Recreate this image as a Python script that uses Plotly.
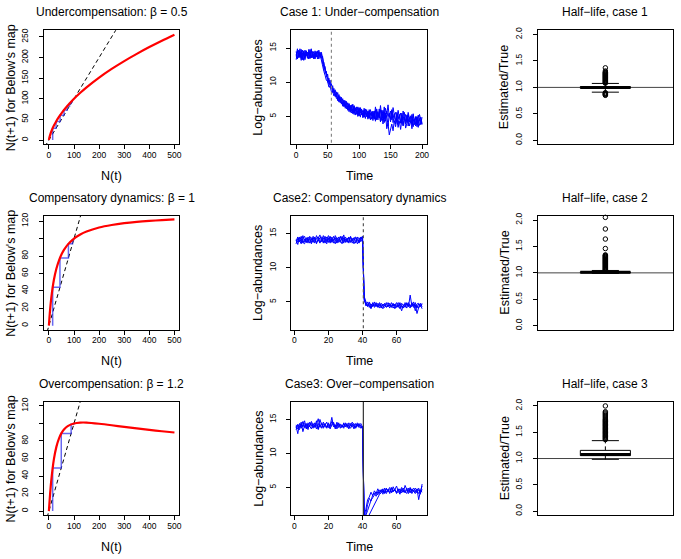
import plotly.graph_objects as go

W, H = 681, 559
FONT = "Liberation Sans, Arial, sans-serif"

# ---------------- data ----------------
# Below's map curves: N(t+1) as a function of N(t)
N_grid = [0, 2, 5, 10, 20, 30, 40, 50, 60, 75, 100, 125, 150, 200, 250, 300, 350, 400, 450, 500]
map_under = [0, 6.0, 12.6, 21.3, 35.0, 46.2, 55.9, 64.7, 72.7, 83.7, 100.0, 114.5, 127.8, 151.4,
             172.4, 191.4, 208.9, 225.3, 240.7, 255.3]
map_comp = [0, 8.3, 19.0, 33.1, 52.7, 65.6, 74.8, 81.7, 87.0, 93.1, 100.0, 104.7, 108.1, 112.7,
            115.6, 117.7, 119.2, 120.3, 121.2, 122.0]
map_over = [0, 8.6, 20.3, 36.5, 59.3, 73.6, 82.8, 89.0, 93.1, 97.0, 100.0, 101.0, 101.0, 99.7,
            98.0, 96.1, 94.3, 92.7, 91.1, 89.7]
# successive iterates N0, N1, N2, ... used for the cobweb
iter_under = [15, 28.6, 44.7, 60.2, 72.9, 82.2, 88.6, 92.8, 95.5]
iter_comp = [15, 44.0, 77.8, 94.0, 98.6, 99.7]
iter_over = [15, 49.3, 88.6, 99.0, 99.95]
one_to_one = [-30, 700]

map_titles = ["Undercompensation: \u03b2 = 0.5", "Compensatory dynamics: \u03b2 = 1",
              "Overcompensation: \u03b2 = 1.2"]

# Time series (log-abundances)
time1 = list(range(0, 201, 2))
case1 = [
    [14.5, 13.4, 14.3, 13.6, 14.8, 13.5, 14.2, 13.3, 14.6, 13.8, 14.4, 13.5, 14.7, 13.6, 14.1, 13.4, 14.5, 13.7, 14.3, 13.6,
     14.2, 12.7, 12.9, 11.3, 11.6, 10.0, 10.6, 9.2, 9.8, 8.5, 9.1, 7.9, 8.6, 7.3, 8.2, 7.0, 7.8, 6.5, 7.4, 6.2, 7.2,
     5.9, 6.9, 5.6, 6.7, 5.4, 6.5, 5.2, 6.4, 5.0, 6.2, 4.9, 6.1, 4.8, 5.9, 4.7, 6.0, 4.6, 5.8, 4.5, 5.7,
     4.4, 5.8, 4.3, 5.6, 4.5, 6.1, 4.2, 5.5, 3.9, 5.7, 4.3, 5.2, 3.6, 5.4, 4.6, 5.9, 4.1, 5.3, 4.4, 5.0,
     3.8, 5.1, 4.2, 5.5, 3.7, 4.9, 4.3, 5.2, 3.6, 4.8, 4.1, 5.3, 3.5, 4.6, 3.9, 5.0, 3.4, 4.7, 3.8, 4.9],
    [13.3, 14.6, 13.7, 14.9, 13.5, 14.3, 13.2, 14.7, 13.9, 14.4, 13.4, 14.8, 13.6, 14.2, 13.5, 14.6, 13.8, 14.5, 13.4, 14.4,
     13.5, 13.8, 12.0, 12.3, 10.8, 11.2, 9.7, 10.3, 9.0, 9.5, 8.4, 8.9, 7.8, 8.5, 7.4, 7.9, 6.9, 7.6, 6.6, 7.3, 6.3,
     7.0, 6.1, 6.6, 5.8, 6.8, 5.5, 6.3, 5.3, 6.4, 5.1, 6.0, 5.4, 5.9, 4.9, 5.7, 5.0, 5.8, 4.8, 5.5, 4.6,
     5.6, 4.7, 5.9, 4.5, 5.3, 4.8, 6.0, 4.4, 5.2, 4.1, 5.5, 3.2, 4.0, 2.3, 3.3, 3.9, 2.9, 4.4, 3.5, 4.6,
     3.4, 4.3, 3.1, 4.5, 3.6, 4.8, 3.3, 4.2, 4.7, 3.6, 4.4, 3.2, 4.6, 3.8, 4.9, 3.5, 4.3, 3.7, 4.5, 3.9],
    [14.1, 13.5, 14.7, 13.8, 14.4, 13.3, 14.6, 13.9, 14.2, 13.5, 14.8, 14.0, 13.6, 14.5, 13.4, 14.3, 13.7, 14.6, 13.9, 14.1,
     13.1, 12.4, 11.6, 11.0, 10.3, 10.1, 9.3, 9.4, 8.6, 8.7, 8.0, 8.3, 7.6, 7.7, 7.1, 7.5, 6.8, 7.0, 6.4, 6.9, 6.1,
     6.5, 5.7, 6.6, 5.5, 6.1, 5.3, 6.2, 5.6, 5.8, 5.1, 6.3, 5.2, 5.5, 4.9, 6.1, 5.0, 5.6, 4.7, 6.0, 5.1,
     5.8, 4.6, 6.4, 5.0, 5.7, 4.8, 6.6, 5.1, 5.9, 4.6, 6.2, 5.3, 6.7, 4.9, 5.8, 4.5, 6.3, 5.2, 5.6, 4.4,
     5.9, 4.8, 5.5, 4.2, 5.8, 4.6, 5.3, 4.1, 5.6, 4.7, 5.1, 3.9, 5.4, 4.3, 5.0, 3.8, 5.2, 4.4, 4.9, 4.0],
    [13.8, 14.9, 13.6, 14.4, 13.2, 14.7, 14.0, 13.5, 14.6, 13.7, 14.3, 13.5, 14.9, 13.8, 14.5, 13.6, 14.2, 13.4, 14.7, 13.9,
     14.4, 13.4, 12.6, 11.9, 11.3, 10.5, 10.4, 9.6, 9.6, 8.9, 8.8, 8.2, 8.4, 7.6, 8.0, 7.2, 7.6, 6.8, 7.3, 6.5, 7.0,
     6.2, 6.8, 5.9, 6.4, 5.6, 6.6, 5.8, 6.1, 5.3, 6.3, 5.5, 5.7, 5.0, 6.2, 5.3, 5.5, 4.8, 6.0, 5.2, 5.4,
     4.9, 5.6, 4.5, 6.1, 5.1, 5.4, 4.3, 5.9, 4.9, 6.4, 4.7, 5.8, 5.0, 5.5, 4.2, 6.0, 4.8, 5.4, 3.9, 5.6,
     4.6, 5.3, 4.0, 5.0, 4.5, 5.6, 3.9, 4.8, 5.3, 4.2, 4.9, 3.8, 5.1, 4.4, 3.6, 4.9, 4.1, 5.3, 4.3, 3.8],
]
time23 = list(range(1, 76))
case2 = [
    [13.5, 14.3, 13.8, 14.6, 13.6, 14.2, 13.7, 14.5, 14.0, 13.5, 14.4, 13.8, 14.7, 14.1, 13.6, 14.3, 13.7, 14.6, 13.8, 14.3,
     13.6, 14.5, 14.0, 13.5, 14.4, 14.1, 13.7, 14.6, 13.8, 14.2, 13.7, 14.4, 13.8, 14.3, 13.5, 14.0, 14.5, 13.7, 14.1, 14.6,
     5.8, 4.9, 4.3, 4.8, 4.1, 4.6, 4.4, 4.9, 4.2, 4.7, 4.5, 4.0, 4.8, 4.3, 4.6, 4.1, 4.9, 4.4, 4.7, 4.2,
     4.6, 4.0, 4.8, 4.5, 4.2, 4.9, 4.3, 6.0, 4.4, 4.7, 3.7, 4.5, 4.1, 4.8, 4.3],
    [14.1, 13.4, 14.4, 13.7, 14.7, 13.8, 14.3, 13.6, 14.6, 14.1, 13.7, 14.5, 13.5, 14.3, 14.8, 13.8, 14.4, 13.6, 14.2, 14.7,
     14.2, 13.7, 14.6, 14.0, 13.6, 14.5, 14.1, 13.5, 14.4, 13.8, 14.3, 13.6, 14.5, 14.0, 14.4, 13.6, 14.2, 14.4, 13.8, 14.3,
     5.4, 4.6, 5.0, 4.2, 4.7, 4.4, 5.0, 4.3, 4.8, 4.5, 4.1, 4.7, 4.4, 4.9, 4.3, 4.6, 4.2, 4.8, 4.0, 4.5,
     4.9, 4.4, 3.7, 4.6, 4.3, 4.8, 4.5, 4.1, 4.9, 4.4, 4.6, 3.3, 4.2, 4.6, 4.0],
    [13.9, 14.5, 14.0, 13.5, 14.3, 14.6, 13.7, 14.2, 13.6, 14.4, 14.0, 13.6, 14.3, 14.5, 13.7, 14.0, 14.7, 14.1, 13.5, 14.4,
     13.8, 14.2, 13.6, 14.7, 14.2, 13.7, 14.5, 14.0, 14.8, 13.7, 14.2, 14.5, 13.7, 13.9, 14.3, 14.5, 13.5, 14.0, 14.4, 14.5,
     5.6, 4.4, 4.7, 4.5, 4.0, 4.9, 4.2, 4.6, 4.5, 4.1, 4.8, 4.4, 4.2, 4.6, 4.9, 4.4, 4.5, 4.1, 4.6, 4.9,
     4.2, 4.7, 4.4, 4.1, 4.9, 4.5, 4.7, 4.3, 4.8, 4.2, 4.9, 4.1, 4.7, 4.4, 4.8],
    [13.6, 13.9, 14.5, 14.2, 13.7, 13.5, 14.4, 14.0, 14.3, 13.7, 14.6, 14.1, 13.7, 13.9, 14.4, 14.5, 13.6, 14.0, 14.5, 13.7,
     14.6, 13.8, 14.2, 14.4, 13.7, 13.9, 14.6, 14.2, 13.6, 14.5, 14.0, 13.8, 14.6, 13.6, 14.1, 14.4, 14.0, 13.6, 14.5, 14.0,
     5.2, 4.7, 4.4, 5.0, 4.5, 4.3, 4.7, 4.5, 4.4, 4.9, 4.3, 4.6, 4.5, 4.2, 4.4, 4.8, 4.3, 4.6, 4.5, 4.3,
     4.4, 4.9, 4.2, 4.5, 4.7, 4.1, 4.9, 4.4, 4.3, 5.0, 4.2, 4.7, 4.8, 4.3, 4.6],
]
case3 = [
    [13.5, 14.3, 13.8, 14.6, 13.2, 14.1, 13.7, 14.5, 14.0, 13.6, 14.4, 13.9, 14.8, 13.5, 14.2, 13.8, 14.6, 14.0, 13.7, 14.3,
     14.1, 15.3, 13.9, 14.2, 13.6, 14.4, 14.0, 13.8, 14.5, 13.9, 14.2, 13.6, 14.4, 13.9, 14.1, 13.7, 14.3, 13.8, 14.1, 13.6,
     0.9, 1.8, 3.2, 3.6, 4.3, 3.8, 4.5, 4.1, 4.8, 4.2, 4.6, 4.0, 4.9, 4.3, 4.7, 4.1, 5.0, 4.4, 4.6, 4.2,
     4.8, 4.3, 4.6, 4.9, 4.2, 4.7, 4.4, 5.0, 4.1, 4.6, 4.3, 4.8, 3.2, 4.5, 5.2],
    [14.2, 13.6, 14.0, 13.9, 14.7, 13.8, 14.4, 13.5, 14.6, 14.1, 13.7, 14.5, 14.1, 13.6, 15.0, 14.2, 13.9, 14.4, 13.8, 14.1,
     13.6, 14.3, 14.6, 13.8, 14.0, 14.5, 13.7, 14.2, 13.9, 14.4, 13.8, 14.5, 14.0, 14.3, 13.6, 14.4, 14.0, 14.2, 13.7, 14.0,
     0.6, 0.9, 1.6, 2.4, 3.1, 3.5, 3.9, 4.3, 3.9, 4.6, 4.4, 4.8, 4.2, 4.9, 4.4, 4.7, 4.3, 5.1, 4.5, 4.4,
     4.7, 4.2, 5.0, 4.5, 4.3, 4.9, 4.6, 4.2, 4.8, 4.5, 4.1, 4.6, 4.9, 4.2, 4.7],
    [14.0, 12.9, 14.4, 13.7, 14.2, 14.8, 13.6, 14.3, 13.9, 14.7, 14.1, 13.8, 14.3, 15.1, 13.9, 14.5, 13.7, 14.2, 14.6, 13.8,
     14.0, 14.7, 14.2, 13.9, 14.6, 13.8, 14.3, 14.1, 13.7, 14.5, 14.1, 13.8, 14.2, 14.6, 14.0, 13.9, 14.5, 14.1, 14.4, 13.9,
     0.4, 0.7, 0.5, 1.0, 1.4, 2.0, 2.6, 3.1, 3.5, 4.0, 4.2, 4.6, 4.1, 4.8, 4.5, 4.3, 4.9, 4.4, 4.7, 5.2,
     4.4, 4.0, 4.7, 4.3, 5.3, 4.6, 4.1, 4.8, 4.4, 4.9, 4.5, 4.2, 4.7, 4.0, 5.5],
    [13.8, 14.1, 13.5, 14.3, 13.9, 14.4, 14.2, 13.8, 14.1, 14.4, 13.9, 14.2, 13.6, 14.4, 14.0, 13.7, 14.3, 14.1, 13.9, 14.5,
     13.8, 14.1, 14.4, 13.6, 14.3, 14.0, 14.2, 13.9, 14.3, 14.0, 14.4, 14.0, 13.7, 14.2, 14.4, 13.8, 14.1, 14.4, 14.0, 13.8,
     0.7, 1.2, 2.5, 3.4, 3.0, 3.9, 4.2, 3.7, 4.4, 4.1, 4.7, 4.3, 4.5, 4.1, 4.6, 5.0, 4.2, 4.5, 4.8, 4.1,
     4.5, 4.8, 4.2, 4.6, 4.4, 4.1, 4.9, 4.3, 4.6, 4.4, 4.9, 4.4, 4.1, 4.6, 4.3],
]
ts_titles = ["Case 1: Under\u2212compensation", "Case2: Compensatory dynamics", "Case3: Over\u2212compensation"]
harvest_time = [56, 40.5, 40.5]

# Half-life ratio boxplots: [lower whisker, Q1, median, Q3, upper whisker]
box_stats = [
    [0.91, 0.985, 1.0, 1.015, 1.075],
    [0.99, 1.0, 1.01, 1.02, 1.045],
    [0.985, 1.055, 1.075, 1.155, 1.34],
]
box_out = [
    [1.08, 1.09, 1.10, 1.11, 1.12, 1.13, 1.14, 1.15, 1.16, 1.17, 1.18, 1.19, 1.20, 1.21, 1.22, 1.23,
     1.24, 1.25, 1.26, 1.27, 1.28, 1.29, 1.31, 1.37, 0.90, 0.89, 0.88, 0.87, 0.86, 0.85],
    [1.05, 1.06, 1.07, 1.08, 1.09, 1.10, 1.11, 1.12, 1.13, 1.14, 1.15, 1.16, 1.17, 1.18, 1.19, 1.20,
     1.21, 1.22, 1.23, 1.24, 1.25, 1.26, 1.27, 1.28, 1.29, 1.30, 1.31, 1.32, 1.33, 1.34, 1.46, 1.64,
     1.83, 2.05],
    [1.36, 1.375, 1.39, 1.405, 1.42, 1.435, 1.45, 1.465, 1.48, 1.495, 1.51, 1.525, 1.54, 1.555, 1.57,
     1.585, 1.60, 1.615, 1.63, 1.645, 1.66, 1.675, 1.69, 1.705, 1.72, 1.735, 1.75, 1.77, 1.79, 1.81,
     1.83, 1.85, 1.87, 1.89, 2.0],
]
box_titles = ["Half\u2212life, case 1", "Half\u2212life, case 2", "Half\u2212life, case 3"]
true_ratio = 1.0

for s in case1:
    assert len(s) == len(time1), len(s)
for s in case2 + case3:
    assert len(s) == len(time23), len(s)

# ---------------- layout geometry (pixels) ----------------
cols = [(44, 180), (292, 428.3), (539.3, 675)]
rows = [(26.5, 141.5), (213.3, 328.3), (400.6, 515)]


def xd(l, r):
    return [l / W, r / W]


def yd(t, b):
    return [1 - b / H, 1 - t / H]


fig = go.Figure()
layout = dict(width=W, height=H, autosize=False, margin=dict(l=0, r=0, t=0, b=0),
              paper_bgcolor="white", plot_bgcolor="white", showlegend=False,
              font=dict(family=FONT, color="black"))
annotations = []

tickfont = dict(size=8.5, family=FONT, color="black")


def axis_base(standoff):
    return dict(showline=True, mirror=True, linecolor="black", linewidth=1,
                ticks="outside", ticklen=4, tickwidth=1, tickcolor="black",
                showgrid=False, zeroline=False, tickfont=tickfont, ticklabelstandoff=standoff)


def add_text(x, y, text, size=12.5, angle=0):
    annotations.append(dict(x=x / W, y=1 - y / H, xref="paper", yref="paper", text=text,
                            showarrow=False, xanchor="center", yanchor="middle", textangle=angle,
                            font=dict(size=size, family=FONT, color="black")))


maps = [map_under, map_comp, map_over]
iters = [iter_under, iter_comp, iter_over]
map_yrange = [[-10.8, 266.0], [-4.9, 126.2], [-4.8, 124.8]]
map_yticks = [([0, 50, 100, 150, 200, 250], ["0", "50", "100", "150", "200", "250"]),
              ([0, 20, 40, 60, 80, 100, 120], ["0", "20", "40", "60", "80", "", "120"]),
              ([0, 20, 40, 60, 80, 100, 120], ["0", "20", "40", "60", "80", "", "120"])]

ts_cases = [case1, case2, case3]
ts_time = [time1, time23, time23]
ts_xrange = [[-8, 208], [-1.9, 77.9], [-1.9, 77.9]]
ts_xticks = [[0, 50, 100, 150, 200], [0, 20, 40, 60], [0, 20, 40, 60]]
ts_vline = [dict(color="#888888", dash="dot", width=1.2), dict(color="#555555", dash="dot", width=1.2),
            dict(color="#333333", dash="solid", width=1.2)]

TITLE_SIZE = 12
for r in range(3):
    top, bot = rows[r]
    for c in range(3):
        idx = r * 3 + c + 1
        xa = "x" if idx == 1 else f"x{idx}"
        ya = "y" if idx == 1 else f"y{idx}"
        xkey = "xaxis" if idx == 1 else f"xaxis{idx}"
        ykey = "yaxis" if idx == 1 else f"yaxis{idx}"
        left, right = cols[c]
        xax = axis_base(-2)
        yax = axis_base(7)
        xax.update(domain=xd(left, right), anchor=ya)
        yax.update(domain=yd(top, bot), anchor=xa, tickangle=-90)

        if c == 0:
            # cobweb
            it = iters[r]
            cx, cy = [it[0]], [0]
            for k in range(len(it) - 1):
                cx += [it[k], it[k + 1]]
                cy += [it[k + 1], it[k + 1]]
            fig.add_trace(go.Scatter(x=one_to_one, y=one_to_one, mode="lines", xaxis=xa, yaxis=ya,
                                     line=dict(color="black", width=1, dash="4px,3px")))
            fig.add_trace(go.Scatter(x=cx, y=cy, mode="lines", xaxis=xa, yaxis=ya,
                                     line=dict(color="rgba(40,40,235,0.7)", width=1.5)))
            fig.add_trace(go.Scatter(x=N_grid, y=maps[r], mode="lines", xaxis=xa, yaxis=ya,
                                     line=dict(color="#ff0000", width=2.2, shape="spline", smoothing=0.8)))
            xax.update(range=[-20, 520], tickvals=[0, 100, 200, 300, 400, 500])
            yax.update(range=map_yrange[r], tickvals=map_yticks[r][0], ticktext=map_yticks[r][1])
            add_text((left + right) / 2, top - 18, map_titles[r], size=TITLE_SIZE)
            add_text((left + right) / 2, bot + 31.5, "N(t)")
            add_text(left - 33, (top + bot) / 2, "N(t+1) for Below's map", angle=-90)
        elif c == 1:
            for s in ts_cases[r]:
                fig.add_trace(go.Scatter(x=ts_time[r], y=s, mode="lines", xaxis=xa, yaxis=ya,
                                         line=dict(color="#0000ff", width=1)))
            fig.add_trace(go.Scatter(x=[harvest_time[r], harvest_time[r]], y=[-5, 30], mode="lines",
                                     xaxis=xa, yaxis=ya, line=ts_vline[r]))
            xax.update(range=ts_xrange[r], tickvals=ts_xticks[r])
            yax.update(range=[0.9, 17.6], tickvals=[5, 10, 15])
            add_text((left + right) / 2, top - 18, ts_titles[r], size=TITLE_SIZE)
            add_text((left + right) / 2, bot + 31.5, "Time")
            add_text(left - 33, (top + bot) / 2, "Log\u2212abundances", angle=-90)
        else:
            lo, q1, med, q3, hi = box_stats[r]
            w, s = 0.185, 0.1
            fig.add_trace(go.Scatter(x=[0, 2], y=[true_ratio, true_ratio], mode="lines", xaxis=xa, yaxis=ya,
                                     line=dict(color="#444444", width=1)))
            fig.add_trace(go.Scatter(x=[1, 1, None, 1, 1], y=[q3, hi, None, q1, lo], mode="lines",
                                     xaxis=xa, yaxis=ya, line=dict(color="black", width=1, dash="4px,3px")))
            fig.add_trace(go.Scatter(x=[1 - s, 1 + s, None, 1 - s, 1 + s], y=[hi, hi, None, lo, lo],
                                     mode="lines", xaxis=xa, yaxis=ya, line=dict(color="black", width=1)))
            fig.add_trace(go.Scatter(x=[1 - w, 1 + w, 1 + w, 1 - w, 1 - w], y=[q1, q1, q3, q3, q1],
                                     mode="lines", xaxis=xa, yaxis=ya, fill="toself", fillcolor="white",
                                     line=dict(color="black", width=1)))
            fig.add_trace(go.Scatter(x=[1 - w, 1 + w], y=[med, med], mode="lines", xaxis=xa, yaxis=ya,
                                     line=dict(color="black", width=3)))
            fig.add_trace(go.Scatter(x=[1] * len(box_out[r]), y=box_out[r], mode="markers",
                                     xaxis=xa, yaxis=ya, cliponaxis=False,
                                     marker=dict(symbol="circle-open", size=4.5, color="black",
                                                 line=dict(width=1, color="black"))))
            xax.update(range=[0.5, 1.5], ticks="", showticklabels=False)
            yax.update(range=[-0.08, 2.08], tickvals=[0, 0.5, 1, 1.5, 2],
                       ticktext=["0.0", "0.5", "1.0", "1.5", "2.0"])
            add_text((left + right) / 2, top - 18, box_titles[r], size=TITLE_SIZE)
            add_text(left - 33, (top + bot) / 2, "Estimated/True", angle=-90)

        layout[xkey] = xax
        layout[ykey] = yax

layout["annotations"] = annotations
fig.update_layout(**layout)
fig.write_html("out.html", config={"displayModeBar": False},
               post_script="document.body.style.margin='0px';document.body.style.overflow='hidden';")
